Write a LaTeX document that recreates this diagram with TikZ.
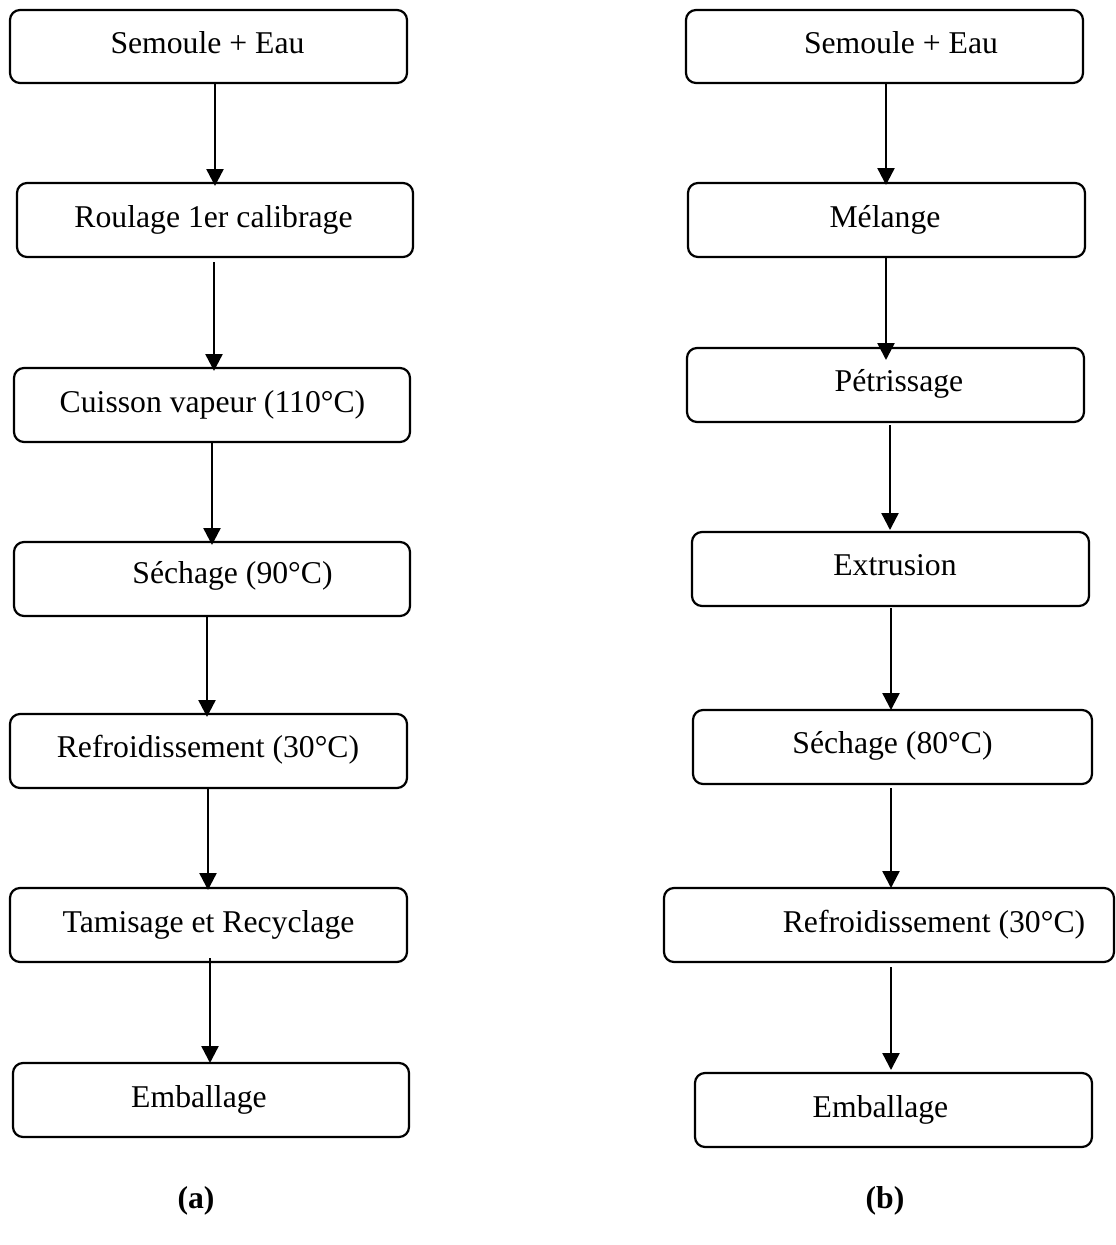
\documentclass[tikz,border=0pt]{standalone}
\usepackage{fontspec}
\setmainfont{Liberation Serif}
\usetikzlibrary{arrows.meta}
\begin{document}
\begin{tikzpicture}[x=1pt,y=-1pt,
  box/.style={draw, line width=2.2pt, rounded corners=10pt, inner sep=0pt, outer sep=0pt},
  lbl/.style={anchor=base, inner sep=0pt, font=\fontsize{31.7}{36}\selectfont},
  figcap/.style={anchor=base, inner sep=0pt, font=\fontsize{31.7}{36}\selectfont\bfseries},
  arr/.style={line width=2.4pt, -{Triangle[width=17pt,length=17pt]}}]
\useasboundingbox (0,0) rectangle (1116,1245);
\newcommand\mybox[5]{\node[box, minimum width=#4-#2, minimum height=#5-#3] (#1) at ({(#2+#4)/2},{(#3+#5)/2}) {};}
\mybox{a1}{10}{10}{407}{83}
\mybox{a2}{17}{183}{413}{257}
\mybox{a3}{14}{368}{410}{442}
\mybox{a4}{14}{542}{410}{616}
\mybox{a5}{10}{714}{407}{788}
\mybox{a6}{10}{888}{407}{962}
\mybox{a7}{13}{1063}{409}{1137}
\mybox{b1}{686}{10}{1083}{83}
\mybox{b2}{688}{183}{1085}{257}
\mybox{b3}{687}{348}{1084}{422}
\mybox{b4}{692}{532}{1089}{606}
\mybox{b5}{693}{710}{1092}{784}
\mybox{b6}{664}{888}{1114}{962}
\mybox{b7}{695}{1073}{1092}{1147}
% texts
\node[lbl] (ta1) at (207.5,53) {Semoule + Eau};
\node[lbl] (ta2) at (213.5,227) {Roulage 1er calibrage};
\node[lbl] (ta3) at (212.5,412) {Cuisson vapeur (110°C)};
\node[lbl] (ta4) at (232.5,583) {Séchage (90°C)};
\node[lbl] (ta5) at (208,757) {Refroidissement (30°C)};
\node[lbl] (ta6) at (208.5,932) {Tamisage et Recyclage};
\node[lbl] (ta7) at (199,1107) {Emballage};
\node[lbl] (tb1) at (901,53) {Semoule + Eau};
\node[lbl] (tb2) at (885,227) {Mélange};
\node[lbl] (tb3) at (899,391) {Pétrissage};
\node[lbl] (tb4) at (895,575) {Extrusion};
\node[lbl] (tb5) at (892.5,753) {Séchage (80°C)};
\node[lbl] (tb6) at (934,932) {Refroidissement (30°C)};
\node[lbl] (tb7) at (880.5,1117) {Emballage};
\node[figcap] (capa) at (196,1208) {(a)};
\node[figcap] (capb) at (885,1208) {(b)};
% arrow x positions
\coordinate (xa1) at (215,0);
\coordinate (xa2) at (214,0);
\coordinate (xa3) at (212,0);
\coordinate (xa4) at (207,0);
\coordinate (xa5) at (208,0);
\coordinate (xa6) at (210,0);
\coordinate (xb1) at (886,0);
\coordinate (xb2) at (886,0);
\coordinate (xb3) at (890,0);
\coordinate (xb4) at (891,0);
\coordinate (xb5) at (891,0);
\coordinate (xb6) at (891,0);
\draw[arr] (a1.south -| xa1) -- ([yshift=-3pt]a2.north -| xa1);
\draw[arr] ([yshift=-5pt]a2.south -| xa2) -- ([yshift=-3pt]a3.north -| xa2);
\draw[arr] (a3.south -| xa3) -- ([yshift=-3pt]a4.north -| xa3);
\draw[arr] (a4.south -| xa4) -- ([yshift=-3pt]a5.north -| xa4);
\draw[arr] (a5.south -| xa5) -- ([yshift=-2pt]a6.north -| xa5);
\draw[arr] ([yshift=4pt]a6.south -| xa6) -- (a7.north -| xa6);
\draw[arr] (b1.south -| xb1) -- ([yshift=-2pt]b2.north -| xb1);
\draw[arr] (b2.south -| xb2) -- ([yshift=-12pt]b3.north -| xb2);
\draw[arr] ([yshift=-3pt]b3.south -| xb3) -- ([yshift=2pt]b4.north -| xb3);
\draw[arr] ([yshift=-2pt]b4.south -| xb4) -- (b5.north -| xb4);
\draw[arr] ([yshift=-4pt]b5.south -| xb5) -- (b6.north -| xb5);
\draw[arr] ([yshift=-5pt]b6.south -| xb6) -- ([yshift=3pt]b7.north -| xb6);
\end{tikzpicture}
\end{document}
